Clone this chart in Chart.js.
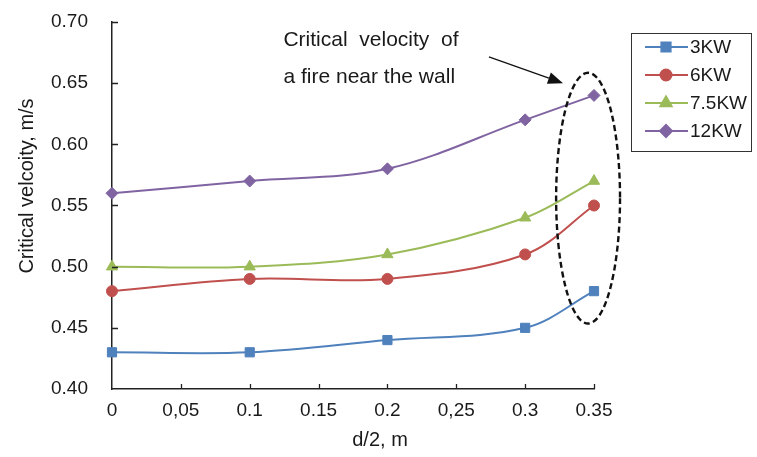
<!DOCTYPE html>
<html>
<head>
<meta charset="utf-8">
<script src="https://cdn.jsdelivr.net/npm/chart.js@4.4.1/dist/chart.umd.min.js"></script>
<style>
  html, body { margin: 0; padding: 0; background: #fff; }
  canvas { display: block; }
</style>
</head>
<body>
<canvas id="velocityChart"></canvas>
<script>
// distance from the wall (d/2, m) and critical velocity (m/s) per fire size
const xValues = [0, 0.1, 0.2, 0.3, 0.35];
const seriesNames = ['3KW', '6KW', '7.5KW', '12KW'];
const v3kw = [0.43, 0.43, 0.44, 0.45, 0.48];
const v6kw = [0.48, 0.49, 0.49, 0.51, 0.55];
const v75kw = [0.50, 0.50, 0.51, 0.54, 0.57];
const v12kw = [0.56, 0.57, 0.58, 0.62, 0.64];

const xTickValues = [0, 0.05, 0.1, 0.15, 0.2, 0.25, 0.3, 0.35];
const xTickLabels = ['0', '0,05', '0.1', '0.15', '0.2', '0,25', '0.3', '0.35'];
const yTickValues = [0.40, 0.45, 0.50, 0.55, 0.60, 0.65, 0.70];
const yTickLabels = ['0.40', '0.45', '0.50', '0.55', '0.60', '0.65', '0.70'];

const noteLines = ['Critical  velocity  of', 'a fire near the wall'];

const FONT = '"Liberation Sans", Arial, sans-serif';
const TEXT = '#1a1a1a';

const styles = [
  { color: '#4F81BD', pointStyle: 'rect', radius: 6.5 },
  { color: '#C0504D', pointStyle: 'circle', radius: 5.5 },
  { color: '#9BBB59', pointStyle: 'triangle', radius: 6.5 },
  { color: '#8064A2', pointStyle: 'rectRot', radius: 6 }
];

function makeDataset(name, values, st) {
  return {
    label: name,
    data: xValues.map((x, i) => ({ x: x, y: values[i] })),
    borderColor: st.color,
    backgroundColor: st.color,
    borderWidth: 2,
    tension: 0.35,
    clip: false,
    pointStyle: st.pointStyle,
    pointRadius: st.radius,
    pointHoverRadius: st.radius,
    pointBackgroundColor: st.color,
    pointBorderColor: st.color,
    pointBorderWidth: 1
  };
}

// inward tick marks on both axes
const tickMarks = {
  id: 'tickMarks',
  afterDatasetsDraw(chart) {
    const ctx = chart.ctx;
    const xs = chart.scales.x, ys = chart.scales.y;
    const area = chart.chartArea;
    ctx.save();
    ctx.strokeStyle = '#222';
    ctx.lineWidth = 1.3;
    ctx.beginPath();
    xTickValues.forEach(v => {
      if (v === 0) return;
      const px = Math.round(xs.getPixelForValue(v)) + 0.5;
      ctx.moveTo(px, area.bottom);
      ctx.lineTo(px, area.bottom - 5);
    });
    yTickValues.forEach(v => {
      if (v === yTickValues[0]) return;
      const py = Math.round(ys.getPixelForValue(v)) + 0.5;
      ctx.moveTo(area.left, py);
      ctx.lineTo(area.left + 6, py);
    });
    ctx.stroke();
    ctx.restore();
  }
};

// axis titles, legend box and the wall-fire note
const extras = {
  id: 'extras',
  afterDraw(chart) {
    const ctx = chart.ctx;
    const xs = chart.scales.x, ys = chart.scales.y;
    ctx.save();

    ctx.fillStyle = TEXT;
    ctx.font = '20px ' + FONT;
    ctx.textAlign = 'center';
    ctx.textBaseline = 'middle';
    ctx.fillText('d/2, m', 380, 440);
    ctx.save();
    ctx.translate(27, 186);
    ctx.rotate(-Math.PI / 2);
    ctx.fillText('Critical velcoity, m/s', 0, 0);
    ctx.restore();

    // legend
    const box = { x: 631.5, y: 33.5, w: 120, h: 118 };
    ctx.strokeStyle = '#333';
    ctx.lineWidth = 1;
    ctx.strokeRect(box.x, box.y, box.w, box.h);
    ctx.font = '19px ' + FONT;
    ctx.textAlign = 'left';
    chart.data.datasets.forEach((ds, i) => {
      const y = 47 + i * 28;
      ctx.strokeStyle = ds.borderColor;
      ctx.lineWidth = 2;
      ctx.beginPath();
      ctx.moveTo(645, y);
      ctx.lineTo(688, y);
      ctx.stroke();
      ctx.fillStyle = ds.borderColor;
      Chart.helpers.drawPoint(ctx, {
        pointStyle: ds.pointStyle,
        radius: ds.pointRadius,
        borderWidth: 1,
        rotation: 0
      }, 666, y);
      ctx.fillStyle = TEXT;
      ctx.fillText(ds.label, 690, y + 1);
    });

    // note text
    ctx.fillStyle = TEXT;
    ctx.font = '21px ' + FONT;
    ctx.textBaseline = 'alphabetic';
    const tx = xs.getPixelForValue(0.1245);
    ctx.fillText(noteLines[0], tx, ys.getPixelForValue(0.6805));
    ctx.fillText(noteLines[1], tx, ys.getPixelForValue(0.6505));

    // arrow to the ellipse
    const ax0 = xs.getPixelForValue(0.2737), ay0 = ys.getPixelForValue(0.6714);
    const ax1 = xs.getPixelForValue(0.3275), ay1 = ys.getPixelForValue(0.6500);
    const ang = Math.atan2(ay1 - ay0, ax1 - ax0);
    const headLen = 15, headW = 6;
    const bx = ax1 - headLen * Math.cos(ang), by = ay1 - headLen * Math.sin(ang);
    ctx.strokeStyle = '#111';
    ctx.lineWidth = 1.3;
    ctx.beginPath();
    ctx.moveTo(ax0, ay0);
    ctx.lineTo(bx, by);
    ctx.stroke();
    ctx.fillStyle = '#111';
    ctx.beginPath();
    ctx.moveTo(ax1, ay1);
    ctx.lineTo(bx + headW * Math.sin(ang), by - headW * Math.cos(ang));
    ctx.lineTo(bx - headW * Math.sin(ang), by + headW * Math.cos(ang));
    ctx.closePath();
    ctx.fill();

    // dashed ellipse round the last column of points
    const cx = xs.getPixelForValue(0.3457), cy = ys.getPixelForValue(0.556);
    const rx = xs.getPixelForValue(0.3457 + 0.0232) - cx;
    const ry = cy - ys.getPixelForValue(0.556 + 0.1025);
    ctx.strokeStyle = '#111';
    ctx.lineWidth = 2.4;
    ctx.setLineDash([6, 3.5]);
    ctx.beginPath();
    ctx.ellipse(cx, cy, rx, ry, 0, 0, Math.PI * 2);
    ctx.stroke();
    ctx.restore();
  }
};

function renderVelocityChart(chartId) {
  const canvas = document.getElementById(chartId);
  canvas.width = 757;
  canvas.height = 457;

  const ctx = canvas.getContext('2d');
  new Chart(ctx, {
    type: 'line',
    data: {
      datasets: [
        makeDataset(seriesNames[0], v3kw, styles[0]),
        makeDataset(seriesNames[1], v6kw, styles[1]),
        makeDataset(seriesNames[2], v75kw, styles[2]),
        makeDataset(seriesNames[3], v12kw, styles[3])
      ]
    },
    options: {
      responsive: false,
      animation: false,
      devicePixelRatio: 1,
      layout: { padding: { left: 0, top: 22, right: 163, bottom: 0 } },
      plugins: {
        legend: { display: false },
        tooltip: { enabled: false }
      },
      scales: {
        x: {
          type: 'linear',
          min: 0,
          max: 0.35,
          afterBuildTicks: s => { s.ticks = xTickValues.map(v => ({ value: v })); },
          afterFit: s => { s.height = 68; },
          grid: { display: false, drawTicks: false },
          border: { display: true, color: '#222', width: 1.5 },
          ticks: {
            padding: 10,
            color: TEXT,
            font: { family: FONT, size: 19 },
            maxRotation: 0,
            autoSkip: false,
            callback: (v, i) => xTickLabels[i]
          }
        },
        y: {
          type: 'linear',
          min: 0.40,
          max: 0.70,
          afterBuildTicks: s => { s.ticks = yTickValues.map(v => ({ value: v })); },
          afterFit: s => {
            s.width = 112;
            // the label gap is horizontal only; keep it out of the top inset
            s.paddingTop = 11;
            s.paddingBottom = 11;
          },
          grid: { display: false, drawTicks: false },
          border: { display: true, color: '#222', width: 1.5 },
          ticks: {
            padding: 24,
            color: TEXT,
            font: { family: FONT, size: 19 },
            callback: (v, i) => yTickLabels[i]
          }
        }
      }
    },
    plugins: [tickMarks, extras]
  });
}

renderVelocityChart('velocityChart');
</script>
</body>
</html>
